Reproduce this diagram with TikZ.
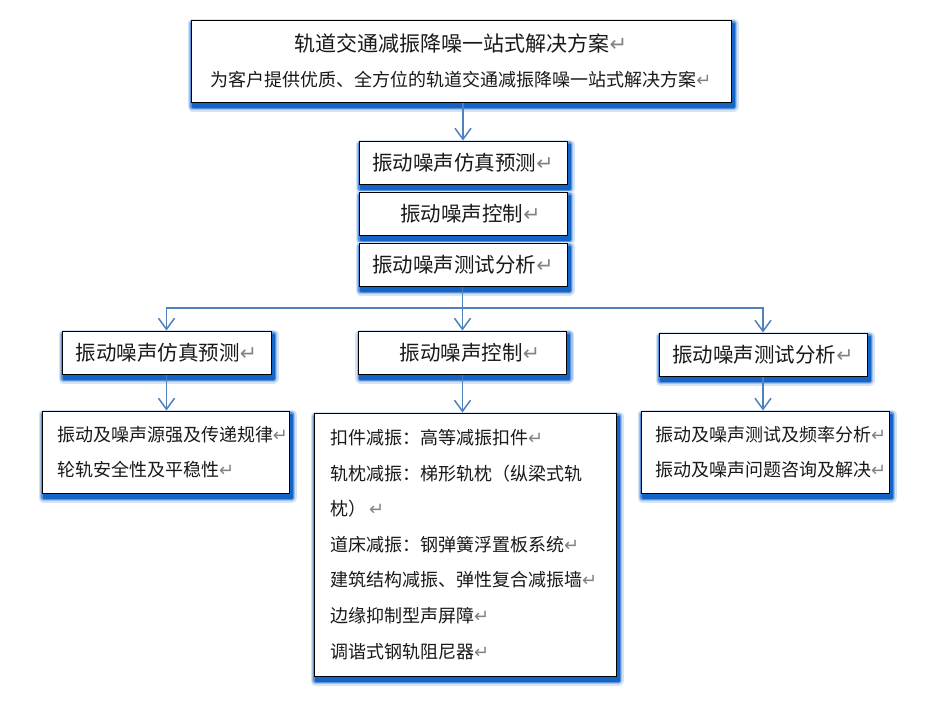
\documentclass[tikz,border=0pt]{standalone}
\usepackage{fontspec}
\setmainfont{Noto Sans CJK SC}
\newfontfamily\retfont{DejaVu Sans}
\usetikzlibrary{arrows.meta,backgrounds}
\definecolor{lineblue}{RGB}{79,129,189}
\definecolor{shblue}{RGB}{20,100,200}
\definecolor{txt}{RGB}{25,25,25}
\definecolor{retgray}{RGB}{130,130,130}
\newcommand\retmark{{\color{retgray}\retfont ↵}}
\tikzset{
  box/.style={draw=black, line width=1pt, fill=white, text=txt, inner sep=0pt},
  bigtxt/.style={font=\fontsize{20.5}{24}\selectfont},
  listbox/.style={box, align=left, font=\fontsize{18}{35.6}\selectfont},
  arr/.style={draw=lineblue, line width=1.5pt, -{Straight Barb[length=11pt,width=16pt,line width=1.5pt]}},
  shlay/.style={line join=round},
}
\begin{document}
\begin{tikzpicture}[x=1pt,y=-1pt]
\useasboundingbox (0,0) rectangle (938,716);

% top box
\node[box, minimum width=540pt, minimum height=82pt, align=center, font=\fontsize{18}{35}\selectfont] (top) at (461,61)
  {{\fontsize{21}{35}\selectfont 轨道交通减振降噪一站式解决方案\retmark}\\
   为客户提供优质、全方位的轨道交通减振降噪一站式解决方案\retmark};

% stack
\node[box, bigtxt, minimum width=208pt, minimum height=43pt] (s1) at (463,162.5) {振动噪声仿真预测\retmark};
\node[box, bigtxt, minimum width=208pt, minimum height=43pt] (s2) at (463,213.5) {\hspace*{15pt}振动噪声控制\retmark};
\node[box, bigtxt, minimum width=208pt, minimum height=43pt] (s3) at (463,264.5) {振动噪声测试分析\retmark};

% second row
\node[box, bigtxt, minimum width=209pt, minimum height=43pt] (l2) at (166.5,352.5) {振动噪声仿真预测\retmark};
\node[box, bigtxt, minimum width=208pt, minimum height=43pt] (m2) at (462.5,352.5) {\hspace*{15pt}振动噪声控制\retmark};
\node[box, bigtxt, minimum width=208pt, minimum height=43pt] (r2) at (763,354.5) {振动噪声测试分析\retmark};

% third row
\node[listbox, text width=217pt, inner xsep=15pt, minimum height=82pt] (l3) at (165.5,452)
  {振动及噪声源强及传递规律\retmark\\轮轨安全性及平稳性\retmark};
\node[listbox, text width=270pt, inner xsep=16pt, minimum height=263pt] (m3) at (465,544.5)
  {扣件减振：高等减振扣件\retmark\\
   轨枕减振：梯形轨枕（纵梁式轨\\
   枕）\,\retmark\\
   道床减振：钢弹簧浮置板系统\retmark\\
   建筑结构减振、弹性复合减振墙\retmark\\
   边缘抑制型声屏障\retmark\\
   调谐式钢轨阻尼器\retmark};
\node[listbox, text width=220pt, inner xsep=14pt, minimum height=82pt] (r3) at (765,452)
  {振动及噪声测试及频率分析\retmark\\振动及噪声问题咨询及解决\retmark};

% shadows
\begin{pgfonlayer}{background}
\foreach \n in {top,s1,s2,s3,l2,m2,r2,l3,m3,r3}{
  \foreach \w/\c in {10pt/18,7pt/40,4.5pt/70,2pt/100}{
    \draw[shlay, draw=shblue!\c, fill=shblue!\c, line width=\w]
      ([shift={(2pt,-4pt)}]\n.south west) rectangle ([shift={(2pt,-4pt)}]\n.north east);
  }
}
\end{pgfonlayer}

% connectors
\coordinate (bus) at (s3.south |- 0,308);
\draw[arr] (top.south -| s1.north) -- (s1.north);
\draw[arr] (s3.south -| m2.north) -- (m2.north);
\draw[arr] (bus) -| (l2.north);
\draw[arr] (bus) -| (r2.north);
\draw[arr] (l2.south) -- (l2.south |- l3.north);
\draw[arr] (m2.south) -- (m2.south |- m3.north);
\draw[arr] (r2.south) -- (r2.south |- r3.north);
\end{tikzpicture}
\end{document}
